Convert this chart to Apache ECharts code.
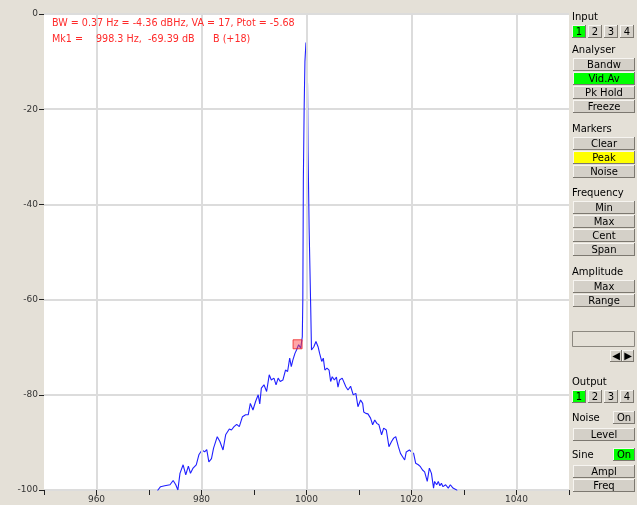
<!DOCTYPE html>
<html><head><meta charset="utf-8">
<script src="https://cdn.jsdelivr.net/npm/echarts@6/dist/echarts.min.js"></script>
<style>html,body{margin:0;padding:0;background:#e4e0d7;}#c{width:637px;height:505px;}</style>
</head><body><div id="c"></div>
<script>
// Spectrum data (Hz, dB)
const freqs = [971.3,971.7,972.2,973.0,974.0,974.6,975.1,975.5,975.9,976.5,977.0,977.5,977.9,978.4,979.0,979.5,980.1,980.6,981.0,981.4,981.9,982.3,983.0,983.5,984.1,984.6,985.3,985.7,986.2,986.7,987.2,987.8,988.4,988.9,989.3,989.8,990.3,990.8,991.1,991.4,991.9,992.4,992.9,993.3,993.8,994.2,994.6,995.0,995.5,996.0,996.4,996.8,997.1,997.4,997.8,998.1,998.5,998.9,999.2,999.3,999.4,999.55,999.7,999.9,1000.05,1000.2,1000.3,1000.5,1000.8,1000.95,1001.4,1001.8,1002.2,1002.5,1002.9,1003.2,1003.5,1003.9,1004.3,1004.6,1004.9,1005.3,1005.7,1006.0,1006.3,1006.8,1007.1,1007.5,1007.9,1008.4,1008.9,1009.4,1009.8,1010.3,1010.7,1010.9,1011.3,1011.7,1012.2,1012.6,1013.0,1013.4,1013.8,1014.3,1014.7,1015.2,1015.7,1016.2,1016.6,1017.0,1017.5,1017.9,1018.3,1018.7,1019.0,1019.6,1020.0,1020.4,1020.8,1021.3,1021.7,1022.1,1022.5,1023.0,1023.4,1023.8,1024.2,1024.4,1024.8,1025.1,1025.4,1025.7,1026.0,1026.5,1027.0,1027.4,1027.9,1028.2,1028.6,1029.0];
const levels = [-101.5,-100,-99.3,-99.1,-98.9,-98.0,-98.9,-100,-96.5,-94.7,-96.8,-95.0,-96.5,-95.4,-94.7,-92.6,-91.6,-92.0,-91.5,-94.1,-93.4,-91.2,-88.8,-89.8,-91.6,-88.4,-87.2,-87.4,-86.7,-86.2,-86.7,-84.6,-84.2,-84.2,-81.8,-83.2,-81.4,-80.0,-81.9,-78.6,-77.9,-79.3,-75.8,-76.9,-76.5,-77.9,-76.5,-77.2,-76.9,-74.8,-75.1,-72.3,-74.1,-72.7,-71.3,-70.6,-69.5,-70.2,-67.8,-60,-35,-20,-10,-6.0,-6.5,-15,-29,-45,-61.5,-70.6,-69.9,-68.8,-69.9,-71.3,-73.0,-72.3,-74.8,-74.4,-74.8,-77.2,-76.2,-76.9,-76.3,-78.4,-76.9,-76.5,-76.3,-78.3,-79.0,-78.2,-80.0,-79.7,-82.5,-81.1,-81.8,-83.6,-83.9,-84.0,-84.9,-86.3,-85.3,-86.0,-86.3,-88.4,-87.0,-87.4,-90.9,-89.8,-89.1,-88.8,-90.9,-92.3,-93.0,-93.7,-92.0,-91.6,-92.0,-92.3,-94.4,-94.7,-95.1,-95.8,-96.2,-98.2,-95.4,-96.5,-99.6,-98.2,-98.9,-98.2,-99.1,-98.6,-99.3,-98.9,-99.6,-98.9,-99.6,-99.3,-100,-101.5];
const xGrid = [960,980,1000,1020,1040];
const xLabels = [960,980,1000,1020,1040];
const marker = [998.3,-69.39];
const infoLine1 = 'BW = 0.37 Hz = -4.36 dBHz, VA = 17, Ptot = -5.68';
const infoMk = 'Mk1 =';
const infoMkVal = '998.3 Hz,  -69.39 dB';
const infoMkB = 'B (+18)';

const FONT = 'DejaVu Sans';
const chart = echarts.init(document.getElementById('c'), null, {renderer:'canvas'});

const graphics = [];
function label(x, y, t) {
  graphics.push({type:'text', x:x, y:y, style:{text:t, fill:'#000', font:'10px "'+FONT+'"', textVerticalAlign:'middle'}});
}
function button(x, y, w, h, t, fill) {
  graphics.push({type:'rect', shape:{x:x, y:y, width:w, height:h}, style:{fill:'#7c7870'}});
  graphics.push({type:'rect', shape:{x:x, y:y, width:w-1, height:h-1}, style:{fill:'#f6f4f0'}});
  graphics.push({type:'rect', shape:{x:x+1, y:y+1, width:w-2, height:h-2}, style:{fill:fill || '#d4d0c8'}});
  graphics.push({type:'text', x:x+w/2, y:y+h/2+0.5, style:{text:t, fill:'#000', font:'10px "'+FONT+'"', textAlign:'center', textVerticalAlign:'middle'}});
}
function nums(y, active) {
  const xs = [572,588,604,620];
  ['1','2','3','4'].forEach((t,i)=>button(xs[i], y, 14, 13, t, i===active ? '#00ff00' : null));
}
// right panel
label(572, 17, 'Input'); nums(25, 0);
label(572, 50, 'Analyser');
button(573, 58, 62, 13, 'Bandw'); button(573, 72, 62, 13, 'Vid.Av', '#00ff00');
button(573, 86, 62, 13, 'Pk Hold'); button(573, 100, 62, 13, 'Freeze');
label(572, 129, 'Markers');
button(573, 137, 62, 13, 'Clear'); button(573, 151, 62, 13, 'Peak', '#ffff00'); button(573, 165, 62, 13, 'Noise');
label(572, 193, 'Frequency');
button(573, 201, 62, 13, 'Min'); button(573, 215, 62, 13, 'Max'); button(573, 229, 62, 13, 'Cent'); button(573, 243, 62, 13, 'Span');
label(572, 272, 'Amplitude');
button(573, 280, 62, 13, 'Max'); button(573, 294, 62, 13, 'Range');
graphics.push({type:'rect', shape:{x:572.5, y:331.5, width:62, height:15}, style:{fill:'#e4e0d7', stroke:'#8c8880', lineWidth:1}});
button(610, 350, 12, 12, '\u25C0'); button(622, 350, 12, 12, '\u25B6');
label(572, 382, 'Output'); nums(390, 0);
label(572, 418, 'Noise'); button(613, 411, 22, 13, 'On');
button(573, 428, 62, 13, 'Level');
label(572, 455, 'Sine'); button(613, 448, 22, 13, 'On', '#00ff00');
button(573, 465, 62, 13, 'Ampl'); button(573, 479, 62, 13, 'Freq');
// info text
const red = '#ff2a2a';
const rf = '9.6px "'+FONT+'"';
graphics.push({type:'text', x:52, y:23, z:10, style:{text:infoLine1, fill:red, font:rf, textVerticalAlign:'middle'}});
graphics.push({type:'text', x:52, y:39, z:10, style:{text:infoMk, fill:red, font:rf, textVerticalAlign:'middle'}});
graphics.push({type:'text', x:96, y:39, z:10, style:{text:infoMkVal, fill:red, font:rf, textVerticalAlign:'middle'}});
graphics.push({type:'text', x:213, y:39, z:10, style:{text:infoMkB, fill:red, font:rf, textVerticalAlign:'middle'}});

const data = freqs.map((f,i)=>[f, levels[i]]);
const labelSet = new Set(xLabels);

chart.setOption({
  animation:false,
  backgroundColor:'#e4e0d7',
  grid:{left:44, right:68, top:14, bottom:15, show:true, backgroundColor:'#ffffff', borderWidth:0},
  xAxis:{type:'value', min:950, max:1050, interval:10, position:'bottom',
    axisLine:{show:false, onZero:false},
    axisTick:{show:true, length:5, lineStyle:{color:'#222'}},
    axisLabel:{margin:5, color:'#333', fontFamily:FONT, fontSize:9,
      formatter:v=> labelSet.has(Math.round(v)) ? String(Math.round(v)) : ''},
    splitLine:{show:false}},
  yAxis:{type:'value', min:-100, max:0, interval:20,
    axisLine:{show:false, onZero:false},
    axisTick:{show:true, length:5, lineStyle:{color:'#222'}},
    axisLabel:{margin:6, color:'#333', fontFamily:FONT, fontSize:9},
    splitLine:{show:true, lineStyle:{color:'#dcdcdc', width:2}}},
  series:[
    {type:'line', data:data, showSymbol:false, symbol:'none', clip:true,
     lineStyle:{color:'#2020ff', width:1.1}, z:3,
     markLine:{silent:true, symbol:'none', label:{show:false}, animation:false,
       lineStyle:{color:'#dcdcdc', width:2, type:'solid'},
       data:xGrid.map(v=>({xAxis:v}))}},
    {type:'scatter', data:[marker], symbol:'rect', symbolSize:9, z:4,
     itemStyle:{color:'rgba(255,70,70,0.6)', borderColor:'#ee2020', borderWidth:1}}
  ],
  graphic:graphics
});
</script></body></html>
